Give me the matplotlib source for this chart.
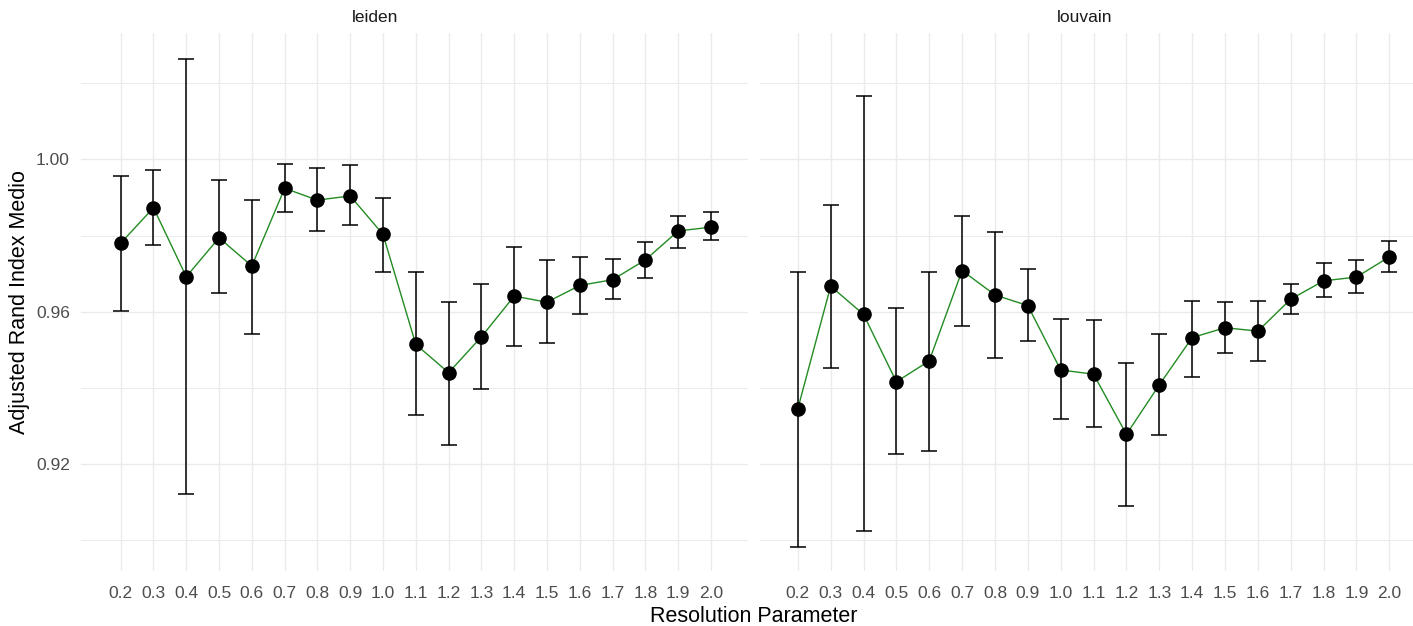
import numpy as np
import matplotlib.pyplot as plt
from matplotlib.ticker import FixedLocator

plt.rcParams['font.family'] = ['Liberation Sans', 'DejaVu Sans']

# Data
resolution = [0.2, 0.3, 0.4, 0.5, 0.6, 0.7, 0.8, 0.9, 1.0, 1.1,
              1.2, 1.3, 1.4, 1.5, 1.6, 1.7, 1.8, 1.9, 2.0]
tick_labels = ['0.2', '0.3', '0.4', '0.5', '0.6', '0.7', '0.8', '0.9', '1.0', '1.1',
               '1.2', '1.3', '1.4', '1.5', '1.6', '1.7', '1.8', '1.9', '2.0']

leiden_mean = [0.9780, 0.9873, 0.9692, 0.9794, 0.9720, 0.9924, 0.9893, 0.9904, 0.9803, 0.9514,
               0.9440, 0.9534, 0.9641, 0.9625, 0.9669, 0.9684, 0.9736, 0.9812, 0.9822]
leiden_low = [0.9602, 0.9775, 0.9121, 0.9648, 0.9542, 0.9862, 0.9811, 0.9828, 0.9704, 0.9329,
              0.9250, 0.9396, 0.9510, 0.9519, 0.9594, 0.9633, 0.9688, 0.9767, 0.9787]
leiden_high = [0.9957, 0.9972, 1.0264, 0.9945, 0.9893, 0.9988, 0.9977, 0.9984, 0.9898, 0.9704,
               0.9625, 0.9673, 0.9771, 0.9736, 0.9744, 0.9739, 0.9783, 0.9850, 0.9862]

louvain_mean = [0.9345, 0.9667, 0.9593, 0.9416, 0.9471, 0.9708, 0.9644, 0.9616, 0.9447, 0.9436,
                0.9278, 0.9408, 0.9532, 0.9558, 0.9549, 0.9633, 0.9681, 0.9691, 0.9744]
louvain_low = [0.8982, 0.9451, 0.9024, 0.9226, 0.9234, 0.9562, 0.9479, 0.9522, 0.9318, 0.9297,
               0.9090, 0.9277, 0.9428, 0.9491, 0.9471, 0.9593, 0.9638, 0.9649, 0.9704]
louvain_high = [0.9704, 0.9881, 1.0166, 0.9609, 0.9704, 0.9850, 0.9810, 0.9711, 0.9582, 0.9577,
                0.9466, 0.9541, 0.9629, 0.9625, 0.9629, 0.9672, 0.9728, 0.9735, 0.9786]

W, H = 1413, 626
fig = plt.figure(figsize=(W / 100, H / 100), dpi=100)


def px_axes(left, right, top, bottom):
    return fig.add_axes([left / W, 1 - bottom / H, (right - left) / W, (bottom - top) / H])


def draw_panel(ax, mean, low, high, xlim, show_y):
    x = np.array(resolution)
    mean = np.array(mean)
    yerr = [mean - np.array(low), np.array(high) - mean]
    ax.plot(x, mean, color='#228B22', lw=1.0, zorder=2)
    ax.errorbar(x, mean, yerr=yerr, fmt='none', ecolor='black', elinewidth=1.1,
                capsize=6, capthick=1.1, zorder=3)
    ax.plot(x, mean, 'o', color='black', ms=9.5, zorder=4)

    ax.set_xlim(*xlim)
    ax.set_ylim(0.8920, 1.0331)
    ax.set_xticks(resolution)
    ax.set_xticklabels(tick_labels)
    ax.yaxis.set_major_locator(FixedLocator([0.92, 0.96, 1.00]))
    ax.yaxis.set_minor_locator(FixedLocator([0.90, 0.94, 0.98, 1.02]))
    ax.set_yticklabels(['0.92', '0.96', '1.00'] if show_y else [])
    ax.grid(which='major', color='#EBEBEB', lw=1.0, zorder=0)
    ax.grid(which='minor', axis='y', color='#EBEBEB', lw=0.7, zorder=0)
    ax.set_axisbelow(True)
    for s in ax.spines.values():
        s.set_visible(False)
    ax.tick_params(which='both', length=0, labelsize=12.5, labelcolor='#4D4D4D')
    ax.tick_params(axis='x', pad=11)
    ax.tick_params(axis='y', pad=8)


ax1 = px_axes(81, 748, 33.3, 570.7)
draw_panel(ax1, leiden_mean, leiden_low, leiden_high, (0.079, 2.113), True)

ax2 = px_axes(760, 1413, 33.3, 570.7)
draw_panel(ax2, louvain_mean, louvain_low, louvain_high, (0.085, 2.072), False)

fig.text(375 / W, 1 - 17 / H, 'leiden', ha='center', va='center', fontsize=12.5, color='#1A1A1A')
fig.text(1085 / W, 1 - 17 / H, 'louvain', ha='center', va='center', fontsize=12.5, color='#1A1A1A')
fig.text(754 / W, 1 - 616 / H, 'Resolution Parameter', ha='center', va='center', fontsize=15.5)
fig.text(20 / W, 1 - 302 / H, 'Adjusted Rand Index Medio', ha='center', va='center',
         rotation=90, fontsize=15.5)

fig.savefig('out.png', dpi=100)
